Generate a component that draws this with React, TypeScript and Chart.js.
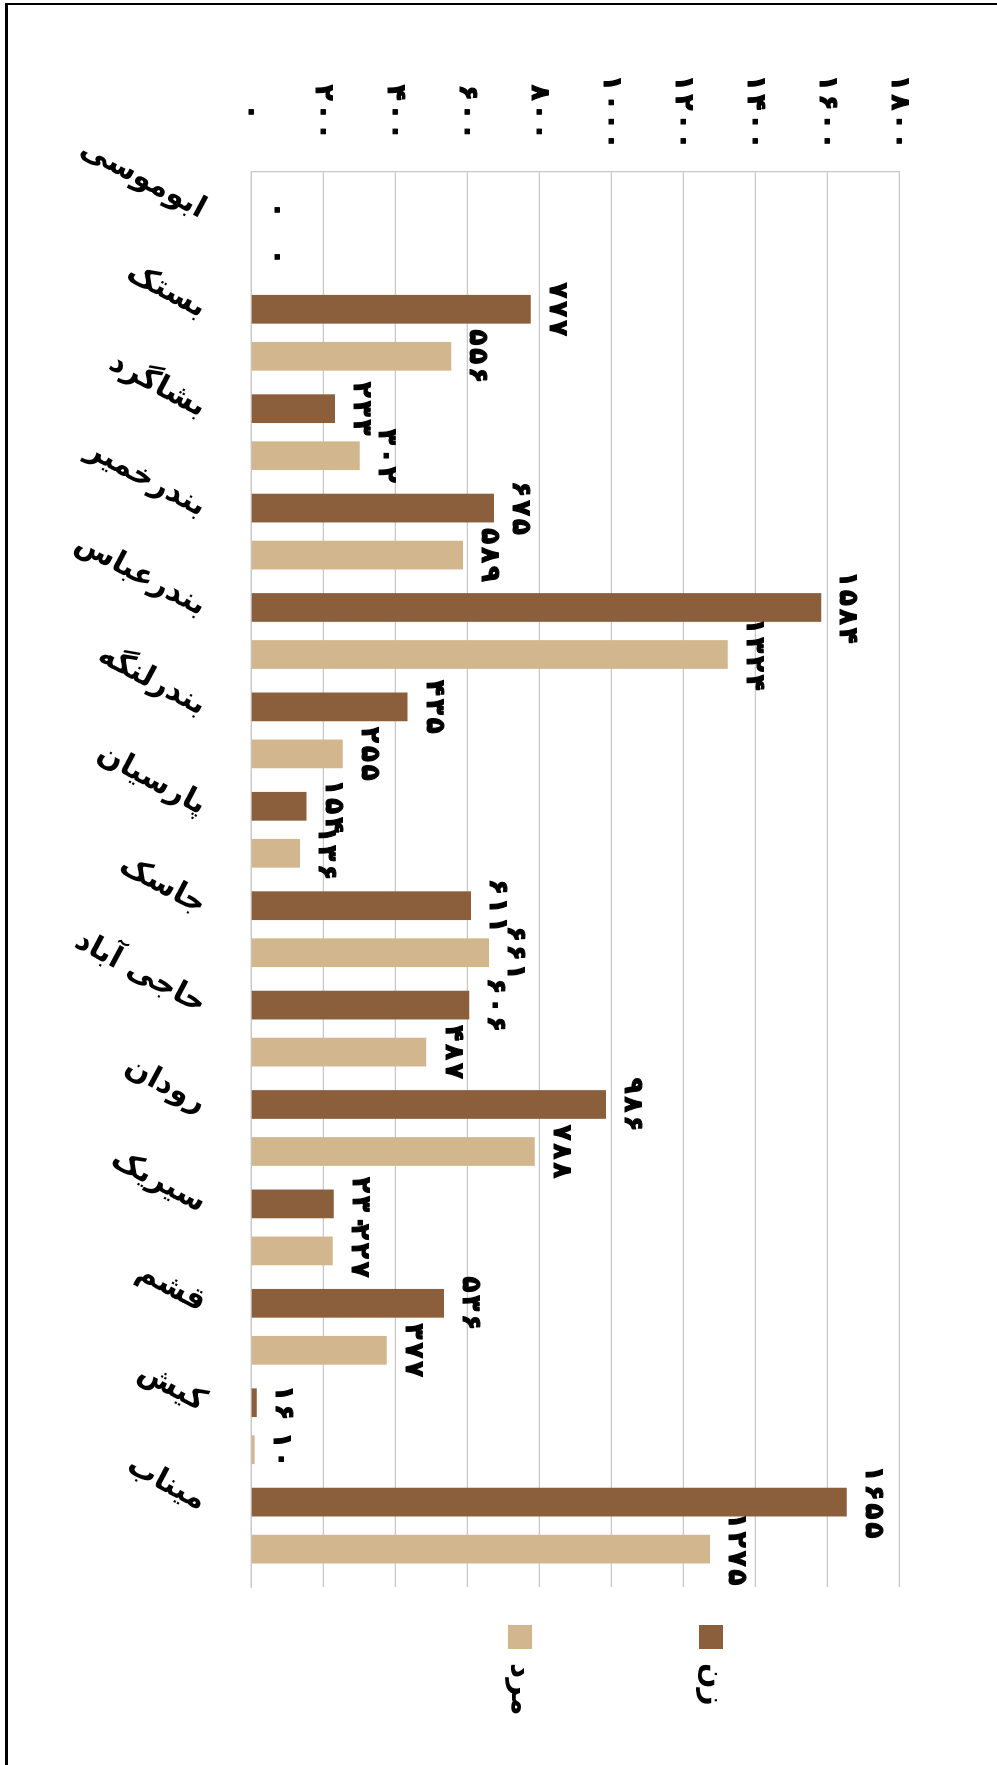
import React, { useEffect, useRef } from "react";
import { Chart, registerables } from "chart.js";

Chart.register(...registerables);

const categories = [
  "ابوموسی",
  "بستک",
  "بشاگرد",
  "بندرخمیر",
  "بندرعباس",
  "بندرلنگه",
  "پارسیان",
  "جاسک",
  "حاجی آباد",
  "رودان",
  "سیریک",
  "قشم",
  "کیش",
  "میناب",
];

const women = [0, 777, 233, 675, 1584, 435, 154, 611, 606, 986, 230, 536, 16, 1655];
const men = [0, 556, 302, 589, 1324, 255, 136, 661, 487, 788, 227, 377, 10, 1275];

const seriesNames = ["زن", "مرد"];
const seriesColors = ["#8B5F3C", "#D2B68E"];

const valueTickLabels = ["۰", "۲۰۰", "۴۰۰", "۶۰۰", "۸۰۰", "۱۰۰۰", "۱۲۰۰", "۱۴۰۰", "۱۶۰۰", "۱۸۰۰"];

const FONT = "DejaVu Sans";
const GRID = "#c8c8c8";
const NUM_SIZE = 26;
const NUM_GAP = 3;
const TICK_GAP = 3.5;

const toFa = (v: number) => String(v).replace(/\d/g, (d) => "۰۱۲۳۴۵۶۷۸۹"[+d]);

function drawDigits(ctx: CanvasRenderingContext2D, text: string, cx: number, cy: number, gap: number) {
  const chars = Array.from(text);
  const ws = chars.map((c) => ctx.measureText(c).width);
  const total = ws.reduce((a, b) => a + b, 0) + gap * (chars.length - 1);
  let x = cx - total / 2;
  ctx.textAlign = "left";
  chars.forEach((c, i) => {
    ctx.fillText(c, x, cy);
    ctx.strokeText(c, x, cy);
    x += ws[i] + gap;
  });
}

export default function App() {
  const ref = useRef<HTMLCanvasElement | null>(null);

  useEffect(() => {
    const canvas = ref.current;
    if (!canvas) return;

    const setNumFont = (ctx: CanvasRenderingContext2D) => {
      ctx.font = `bold ${NUM_SIZE}px "${FONT}"`;
      ctx.fillStyle = "#000";
      ctx.strokeStyle = "#000";
      ctx.lineWidth = 1.2;
      ctx.lineJoin = "round";
      ctx.textBaseline = "middle";
    };

    const valueTicks = {
      id: "valueTicks",
      afterDraw(chart: any) {
        const ctx = chart.ctx;
        const s = chart.scales.y;
        ctx.save();
        setNumFont(ctx);
        s.ticks.forEach((t: any, i: number) => {
          drawDigits(ctx, valueTickLabels[i], 112, s.getPixelForValue(t.value), TICK_GAP);
        });
        ctx.restore();
      },
    };

    const valueLabels = {
      id: "valueLabels",
      afterDatasetsDraw(chart: any) {
        const ctx = chart.ctx;
        ctx.save();
        setNumFont(ctx);
        chart.data.datasets.forEach((ds: any, di: number) => {
          chart.getDatasetMeta(di).data.forEach((el: any, i: number) => {
            const v = ds.data[i].y;
            drawDigits(ctx, toFa(v), el.x, el.y - 26, NUM_GAP);
          });
        });
        ctx.restore();
      },
    };

    const legendPlugin = {
      id: "customLegend",
      afterDraw(chart: any) {
        const ctx = chart.ctx;
        const area = chart.chartArea;
        ctx.save();
        ctx.font = `bold 30px "${FONT}"`;
        ctx.textAlign = "left";
        ctx.textBaseline = "middle";
        const centers = [286, 477];
        chart.data.datasets.forEach((ds: any, di: number) => {
          const cy = centers[di];
          const bx = area.right + 38;
          ctx.fillStyle = ds.backgroundColor;
          ctx.fillRect(bx, cy - 12, 24, 24);
          ctx.fillStyle = "#000";
          ctx.fillText(ds.label, bx + 38, cy);
        });
        ctx.restore();
      },
    };

    const chart = new Chart(canvas, {
      type: "bar",
      data: {
        datasets: [
          {
            label: seriesNames[0],
            data: categories.map((_, i) => ({ x: i, y: women[i] })),
            backgroundColor: seriesColors[0],
            categoryPercentage: 0.946,
            barPercentage: 0.611,
          },
          {
            label: seriesNames[1],
            data: categories.map((_, i) => ({ x: i, y: men[i] })),
            backgroundColor: seriesColors[1],
            categoryPercentage: 0.946,
            barPercentage: 0.611,
          },
        ],
      },
      options: {
        animation: false,
        responsive: false,
        devicePixelRatio: 1,
        layout: { padding: { left: 0, top: 98, right: 178, bottom: 0 } },
        plugins: {
          legend: { display: false },
          tooltip: { enabled: false },
        },
        scales: {
          x: {
            type: "linear",
            offset: false,
            min: -0.6175,
            max: 13.6175,
            grid: { display: false, drawTicks: false, offset: false },
            border: { display: true, color: GRID, width: 1.3 },
            afterBuildTicks: (s: any) => {
              s.ticks = categories.map((_, i) => ({ value: i }));
            },
            afterFit: (s: any) => {
              s.height = 251;
            },
            ticks: {
              autoSkip: false,
              minRotation: 62,
              maxRotation: 62,
              padding: 39,
              labelOffset: -22,
              color: "#000",
              font: { family: FONT, size: 30, weight: "bold" },
              callback: (v: any) => categories[v] ?? "",
            },
          },
          y: {
            min: 0,
            max: 1800,
            grid: { color: GRID, lineWidth: 1.3, drawTicks: false },
            border: { display: true, color: GRID, width: 1.3 },
            afterFit: (s: any) => {
              s.width = 172;
            },
            ticks: {
              stepSize: 200,
              display: false,
            },
          },
        },
      },
      plugins: [valueTicks, valueLabels, legendPlugin],
    } as any);

    return () => chart.destroy();
  }, []);

  return (
    <div
      style={{
        position: "absolute",
        left: 0,
        top: 0,
        width: 997,
        height: 1765,
        overflow: "hidden",
        background: "#fff",
      }}
    >
      <div
        style={{
          position: "absolute",
          left: 0,
          top: 0,
          width: 1765,
          height: 997,
          transformOrigin: "0 0",
          transform: "translateX(997px) rotate(90deg)",
        }}
      >
        <canvas ref={ref} width={1765} height={997} style={{ display: "block", width: 1765, height: 997 }} />
      </div>
      <div
        style={{
          position: "absolute",
          left: 5,
          top: 3,
          width: 1200,
          height: 2000,
          borderTop: "2.6px solid #000",
          borderLeft: "3px solid #000",
        }}
      />
    </div>
  );
}
